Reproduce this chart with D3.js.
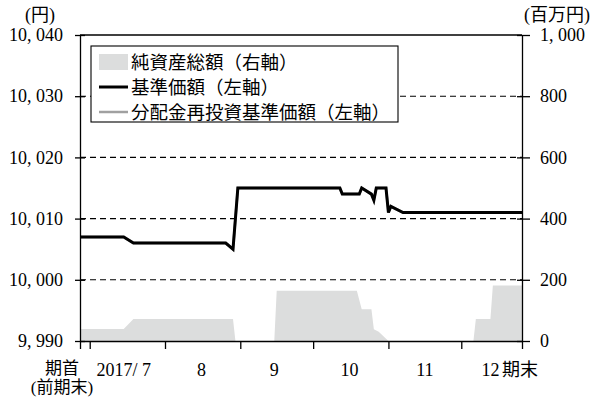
<!DOCTYPE html>
<html><head><meta charset="utf-8">
<script src="https://cdn.jsdelivr.net/npm/d3@7"></script>
<style>
body{margin:0;background:#fff;}
svg{display:block;}
text{font-family:"Liberation Serif","Noto Sans CJK JP",serif;font-size:18px;fill:#000;}
</style></head><body>
<svg id="chart" width="593" height="397"></svg>
<script>
// ---- data ----
const navDates = ["2017-06-27","2017-07-15","2017-07-19","2017-08-26","2017-08-29","2017-08-31","2017-10-12","2017-10-13","2017-10-20","2017-10-21","2017-10-25","2017-10-26","2017-10-27","2017-10-31","2017-11-01","2017-11-02","2017-11-07","2017-12-26"];
const navValues = [10007,10007,10006,10006,10005,10015,10015,10014,10014,10015,10014,10013,10015,10015,10011,10012,10011,10011];
const reinvestValues = [10007,10007,10006,10006,10005,10015,10015,10014,10014,10015,10014,10013,10015,10015,10011,10012,10011,10011];
const assetDates = ["2017-06-27","2017-07-15","2017-07-19","2017-08-29","2017-08-30","2017-09-15","2017-09-16","2017-10-19","2017-10-21","2017-10-25","2017-10-26","2017-10-28","2017-11-01","2017-12-06","2017-12-07","2017-12-13","2017-12-14","2017-12-26"];
const assetValues = [39,39,72,72,0,0,164,164,104,104,38,30,0,0,72,72,181,181];
const leftTicks = [9990,10000,10010,10020,10030,10040];
const gridTicks = [10000,10010,10020,10030];
const rightTicks = [0,200,400,600,800,1000];
const periodStart = "2017-06-27", periodEnd = "2017-12-26";
const monthTickDates = ["2017-07-01","2017-08-01","2017-09-01","2017-10-01","2017-11-01","2017-12-01"];
const monthLabels = ["2017/ 7","8","9","10","11","12"];
const monthLabelDates = ["2017-07-15","2017-08-16","2017-09-15","2017-10-16","2017-11-16","2017-12-13"];
const legendLabels = ["純資産総額（右軸）","基準価額（左軸）","分配金再投資基準価額（左軸）"];
const leftUnit = "(円)", rightUnit = "(百万円)";
const startLabel = "期首", startLabel2 = "(前期末)", endLabel = "期末";

// ---- layout ----
const L = 80, R = 522, T = 35, B = 341;
const parse = d3.timeParse("%Y-%m-%d");
const svg = d3.select("#chart");
const x = d3.scaleTime().domain([parse(periodStart), parse(periodEnd)]).range([L, R]);
const yL = d3.scaleLinear().domain([9990, 10040]).range([B, T]);
const yR = d3.scaleLinear().domain([0, 1000]).range([B, T]);
const fmt = d => d3.format(",")(d).replace(",", ", ");

const nav = navDates.map((d, i) => ({date: parse(d), v: navValues[i]}));
const reinv = navDates.map((d, i) => ({date: parse(d), v: reinvestValues[i]}));
const assets = assetDates.map((d, i) => ({date: parse(d), v: assetValues[i]}));

// area
svg.append("path").datum(assets)
  .attr("fill", "#dcdddd")
  .attr("d", d3.area().x(d => x(d.date)).y0(yR(0)).y1(d => yR(d.v)));

// grid
svg.append("g").selectAll("line").data(gridTicks).join("line")
  .attr("x1", L).attr("x2", R)
  .attr("y1", d => yL(d)).attr("y2", d => yL(d))
  .attr("stroke", "#000").attr("stroke-width", 1.1).attr("stroke-dasharray", "6,4");

// lines
const line = d3.line().x(d => x(d.date)).y(d => yL(d.v));
svg.append("path").datum(reinv).attr("fill", "none").attr("stroke", "#a0a0a0").attr("stroke-width", 2.5).attr("d", line);
svg.append("path").datum(nav).attr("fill", "none").attr("stroke", "#000").attr("stroke-width", 3).attr("d", line);

// top border
svg.append("line").attr("x1", L).attr("x2", R).attr("y1", T).attr("y2", T).attr("stroke", "#000").attr("stroke-width", 1.3);

// axes
const axL = svg.append("g").attr("transform", `translate(${L},0)`)
  .call(d3.axisLeft(yL).tickValues(leftTicks).tickSize(5).tickSizeOuter(0).tickPadding(12).tickFormat(fmt));
axL.selectAll(".tick line").attr("x1", 5);
const axR = svg.append("g").attr("transform", `translate(${R},0)`)
  .call(d3.axisRight(yR).tickValues(rightTicks).tickSize(8).tickSizeOuter(0).tickPadding(10).tickFormat(fmt));
axR.selectAll(".tick line").attr("x1", -5);
const bTicks = [parse(periodStart), ...monthTickDates.map(parse), parse(periodEnd)];
const axB = svg.append("g").attr("transform", `translate(0,${B})`)
  .call(d3.axisBottom(x).tickValues(bTicks).tickSize(8).tickSizeOuter(0).tickFormat(""));
[axL, axR, axB].forEach(a => {
  a.selectAll("path, line").attr("stroke", "#000").attr("stroke-width", 1.3);
  a.selectAll("text").attr("fill", "#000");
  a.attr("font-family", null).attr("font-size", null);
});

// month labels
svg.append("g").selectAll("text").data(monthLabels).join("text")
  .attr("x", (d, i) => x(parse(monthLabelDates[i]))).attr("y", 376)
  .attr("text-anchor", "middle").text(d => d);
svg.append("text").attr("x", x(parse(periodStart)) - 18).attr("y", 374)
  .attr("text-anchor", "middle").style("font-size", "17px").text(startLabel);
svg.append("text").attr("x", x(parse(periodStart)) - 18).attr("y", 393)
  .attr("text-anchor", "middle").style("font-size", "17px").text(startLabel2);
svg.append("text").attr("x", x(parse(periodEnd)) - 2).attr("y", 376).attr("text-anchor", "middle").text(endLabel);

// units
svg.append("text").attr("x", 40).attr("y", 21).attr("text-anchor", "middle").text(leftUnit);
svg.append("text").attr("x", 557).attr("y", 21).attr("text-anchor", "middle").text(rightUnit);

// legend
const lg = svg.append("g");
lg.append("rect").attr("x", 91).attr("y", 46).attr("width", 307).attr("height", 76)
  .attr("fill", "#fff").attr("stroke", "#000").attr("stroke-width", 1.1);
const rowY = [62, 87, 112];
lg.append("rect").attr("x", 99).attr("y", rowY[0] - 8).attr("width", 29).attr("height", 16).attr("fill", "#dcdddd");
lg.append("line").attr("x1", 99).attr("x2", 128).attr("y1", rowY[1]).attr("y2", rowY[1]).attr("stroke", "#000").attr("stroke-width", 3);
lg.append("line").attr("x1", 99).attr("x2", 128).attr("y1", rowY[2]).attr("y2", rowY[2]).attr("stroke", "#a0a0a0").attr("stroke-width", 2.5);
lg.selectAll("text.lg").data(legendLabels).join("text").attr("class", "lg")
  .attr("x", 131).attr("y", (d, i) => rowY[i] + 7).style("font-size", "18.5px").text(d => d);
</script>
</body></html>
